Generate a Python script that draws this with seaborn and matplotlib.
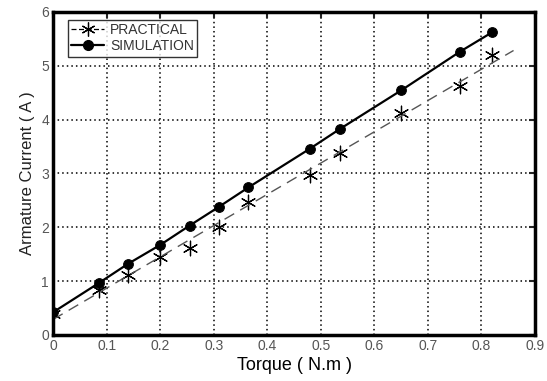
import numpy as np
import pandas as pd
import matplotlib
matplotlib.use("Agg")
import matplotlib.pyplot as plt
from matplotlib.lines import Line2D
import seaborn as sns

torque = [0.0, 0.085, 0.14, 0.20, 0.255, 0.31, 0.365, 0.48, 0.535, 0.65, 0.76, 0.82]
sim_current = [0.42, 0.96, 1.32, 1.67, 2.03, 2.38, 2.74, 3.46, 3.82, 4.54, 5.26, 5.62]
prac_current = [0.39, 0.84, 1.11, 1.45, 1.62, 2.01, 2.46, 2.97, 3.37, 4.12, 4.63, 5.19]
fit_range = [0.0, 0.86]
xticks = [0, 0.1, 0.2, 0.3, 0.4, 0.5, 0.6, 0.7, 0.8, 0.9]
yticks = [0, 1, 2, 3, 4, 5, 6]

sns.set_style("white")
plt.rcParams['font.family'] = ['Liberation Sans', 'DejaVu Sans']

df = pd.DataFrame({"torque": torque, "sim": sim_current, "prac": prac_current})
coef = np.polyfit(torque, prac_current, 1)
fit_df = pd.DataFrame({"x": fit_range, "y": np.polyval(coef, fit_range)})

fig = plt.figure(figsize=(5.47, 3.81), dpi=100)
ax = fig.add_axes([0.097, 0.121, 0.881, 0.848])

sns.lineplot(data=fit_df, x="x", y="y", ax=ax, color="#555555", lw=1.0,
             dashes=False, linestyle=(0, (8, 5)))
sns.lineplot(data=df, x="torque", y="sim", ax=ax, color="black", lw=1.6,
             marker="o", markersize=7, markeredgecolor="black")
sns.scatterplot(data=df, x="torque", y="prac", ax=ax, marker=(6, 2, 0), s=110,
                color="black", linewidth=0.9, edgecolor="black")

ax.set_xlim(0, 0.9)
ax.set_ylim(0, 6)
ax.set_xticks(xticks)
ax.set_xticklabels([("0" if t == 0 else f"{t:g}") for t in xticks])
ax.set_yticks(yticks)
ax.grid(True, color="black", linestyle=(0, (1, 2)), linewidth=1.1)
for s in ax.spines.values():
    s.set_linewidth(2.5)
    s.set_color("black")
ax.tick_params(direction="in", length=4, width=1.5, top=True, right=True,
               labelsize=10, labelcolor="#555555", pad=3)
ax.set_xlabel("Torque ( N.m )", fontsize=13, color="#000000", labelpad=3)
ax.set_ylabel("Armature Current ( A )", fontsize=12, color="#222222", labelpad=4)

handles = [
    Line2D([0], [0], color="black", lw=0.9, linestyle=(0, (4, 2)), marker=(6, 2, 0),
           markersize=10, markeredgewidth=0.9),
    Line2D([0], [0], color="black", lw=1.6, marker="o", markersize=7),
]
leg = ax.legend(handles, ["PRACTICAL", "SIMULATION"], loc="upper left",
                bbox_to_anchor=(0.03, 0.976), fontsize=10, frameon=True,
                fancybox=False, handlelength=2.4, handletextpad=0.4,
                borderpad=0.25, labelspacing=0.15, borderaxespad=0)
leg.get_frame().set_edgecolor("black")
leg.get_frame().set_linewidth(1.0)
for t in leg.get_texts():
    t.set_color("#333333")

fig.savefig("out.png", dpi=100)
